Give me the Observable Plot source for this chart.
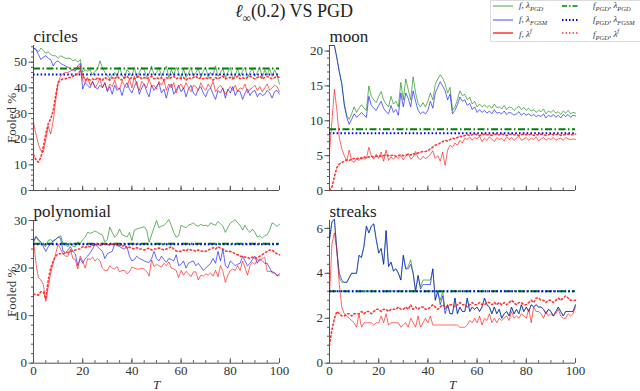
<!DOCTYPE html>
<html>
<head>
<meta charset="utf-8">
<script src="https://cdn.jsdelivr.net/npm/d3@7"></script>
<script src="https://cdn.jsdelivr.net/npm/@observablehq/plot@0.6"></script>
<style>
  html, body { margin: 0; padding: 0; background: #fff; }
  #root { position: relative; width: 640px; height: 391px; overflow: hidden; font-family: "Liberation Serif", "Times New Roman", serif; }
  .panel { position: absolute; }
  #title { position: absolute; top: 1px; left: 194px; width: 200px; text-align: center; font-size: 18px; color: #222; }
  #title sub { font-size: 12px; }
  #legend { position: absolute; left: 490px; top: 0px; width: 160px; height: 40px; border: 1px solid #ddd; background: #fff; }
  .lg { position: absolute; font-size: 9px; font-style: italic; color: #333; white-space: nowrap; }
  .lg sub, .lg sup { font-size: 6.5px; font-style: italic; }
</style>
</head>
<body>
<div id="root">
  <div id="title"><i>ℓ</i><sub>∞</sub>(0.2) VS PGD</div>
  <div id="legend"></div>
</div>
<script>
// ---------- data ----------
const T = d3.range(0, 101);
const panelNames = ["circles", "moon", "polynomial", "streaks"];

const circlesG = [55.5,55,54,55.5,54.5,53.5,54,53,52.5,52.5,
  51.5,52.5,52,51.5,51.5,51.5,50.5,51,50,51,
  46,47,46.5,47,45,46.5,47,50.5,48,46,
  45,43.5,45,46,44.5,48,45,43.5,47,46,
  44.5,48,44,46,48,47,44,45.5,48.5,45,
  46,48,44.5,46.5,48.5,44,47,45,48,46,
  43.5,47.5,44,45.5,48,44.5,46,47.5,44,46.5,
  48,44,46,45,48.5,44.5,46,47.5,44,46,
  48,43.5,45,47.5,44.5,46.5,48,44,46,47.5,
  44.5,46,48,44,47,45,47.5,44.5,47,45,41.5];
const circlesB = [55.5,55,53,51,52,52.5,51.5,51,48.5,50,
  50.5,49.5,49,48.5,48,47.5,47,46.5,48.5,49.5,
  39.5,42,41,40,42.5,40.5,39.5,41,40,42,
  38.5,40.5,37.5,41,39,40,37,40.5,42,39.5,
  38,40.5,42.5,37.5,40,41.5,38.5,36.5,41,39,
  40.5,42,38,39.5,36,40,41.5,37.5,39,41,
  38.5,40,36.5,39.5,41,38,37,39.5,40.5,38,
  36.5,39,40,37.5,35.5,39,38,40,36,39.5,
  38,40.5,37,39,38.5,35.5,38,39.5,37,38.5,
  39,36.5,38,37,37.5,39,38,36,38.5,39,37.5];
const circlesR = [26.5,22,18,15.5,15,20,25,22,27,35,
  42,44.5,45.5,46,46,46.5,47,47.5,48,48.5,
  43,42,44,41,42.5,40,41.5,43.5,40,42,
  39,41.5,40.5,43,40,39.5,42.5,41,40,43.5,
  40,44.5,41,39,42.5,41.5,40,43.5,40.5,41,
  39.5,42.5,41,43,39,41.5,40,42,38,40.5,
  41.5,39.5,42,40,38.5,41,40.5,39,42,40,
  39,41.5,40,42.5,38.5,40,41,39.5,37.5,39,
  40.5,39,41,38.5,40,39.5,41.5,38,39.5,40,
  41,39,40.5,38.5,40,41.5,39,40,41,40.5,38.5];
const circlesRd = [14,12,11,13,17,22,26,28,31,37,
  42,43,43.5,43.5,44,44,44.5,45,45.5,46.5,
  45,43,43.5,43,43.5,43,44,43.5,43,44,
  43.5,43,44,43.5,44.5,43.5,43,44,44.5,43.5,
  44,43.5,44,44.5,43.5,44,43.5,44,44.5,43.5,
  44,43.5,44,43,44,43.5,44,44.5,43.5,44,
  43.5,44,43,44,43.5,44,44.5,43.5,44,43.5,
  44,43.5,44,43,44,43.5,44,44.5,43.5,44,
  44,43.5,44,44.5,43.5,44,43.5,44,44.5,44,
  43.5,44,44.5,43.5,44,44.5,44,43.5,44,44.5,44];

const moonG = [20.8,20.8,20.8,19,17,15.3,12.4,10.8,10.2,11,
  12,11.2,11.8,12.3,11.8,11.5,15,13.5,13,12.6,
  13.5,14.2,13,12.4,12,13.5,12.4,12.8,12,15.5,
  13,16,14.5,13,16.3,14,12.5,12,12.6,12,
  12.8,14,13,15.2,16,16.6,16.1,15.3,14,14.8,
  11.5,12,13,14.3,13.6,13.8,13,13.4,12.4,12.8,
  12,12.4,12,12.3,11.9,12.2,11.8,12.4,11.9,12,
  11.7,12.2,11.6,12,11.9,11.5,11.8,12.1,11.6,11.9,
  11.5,11.8,11.4,11.6,11.2,11.5,11.3,11.7,11,11.4,
  11.2,11.5,11.1,11.3,10.9,11.4,11.1,11.5,11,11.2,11.1];
const moonB = [20.8,20.8,20.8,19,17,15.3,12.3,10.5,9.5,10.2,
  11,10.5,10.8,11.2,10.8,10.5,13.5,12.2,11.8,11.5,
  12.2,12.8,11.8,11.3,11,12.2,11.2,11.6,10.8,14,
  12,14,13.2,12,14.3,12.8,11.5,11,11.3,11,
  11.5,12.8,11.8,14,14.8,15.6,15,14.3,13,13.8,
  11,11.5,12.3,13.4,12.8,13,12.2,12.5,11.6,12,
  11.2,11.6,11.2,11.5,11.1,11.4,11,11.6,11.1,11.2,
  11,11.4,10.9,11.2,11.1,10.8,11,11.3,10.8,11.1,
  10.8,11,10.7,10.9,10.6,10.8,10.6,11,10.4,10.8,
  10.6,10.9,10.5,10.8,10.4,10.9,10.6,10.9,10.5,10.8,10.7];
const moonR = [5.5,10,14.5,11.5,7.5,6,5,4.2,5.8,4.3,
  4,4.6,4.3,4.8,4.5,4.6,6.2,5,4.5,5.2,
  4.6,5.5,4.2,5.8,4.3,4.8,4.5,4.9,4.6,5,
  4.4,4.9,5.3,4.5,4.8,5.6,4.7,4.4,4.9,4.6,
  4.8,5.2,5.7,4.6,5,4.2,5.5,3.6,5.8,6.5,
  6.2,6.8,6.5,7.2,6.8,7.5,7.3,7.7,7.2,7.6,
  7.4,7.8,7,7.5,7.2,7.7,7.4,7,7.6,7.3,
  7.5,7.1,7.7,7.3,7.6,7.2,7.5,7.8,7.2,7.4,
  7.6,7.2,7.5,7.3,7.7,7.1,7.4,7.6,7.2,7.5,
  7.3,7.6,7.2,7.4,7.5,7.2,7.6,7.4,7.3,7.4,7.3];
const moonRd = [0,0.5,2,3.3,3.8,4,4.2,4.4,4.3,4.5,
  4.6,4.5,4.7,4.6,4.8,4.7,4.8,4.9,4.8,4.9,
  5,4.9,5,5.1,5,5,5.1,4.9,5,5.1,
  5,5.1,5.2,5.1,5.3,5.2,5.4,5.5,5.6,5.6,
  5.7,6,6.2,6.5,6.6,6.8,7,7.2,7.1,7.3,
  7.5,7.4,7.6,7.8,7.7,7.9,8,7.9,8,8.1,
  8,7.9,8,8.1,8,8,7.9,8.1,8,8,
  8.1,8,7.9,8,8.1,8,8,7.9,8,8.1,
  8,8,8.1,7.9,8,8,8.1,8,7.9,8,
  8.1,8,8,8.1,7.9,8,8,8.1,8,8,8.1];

const polyG = [25.5,26.5,25.8,25.2,24.8,24.5,25.8,26,25.5,26,
  26.5,26.8,25.2,24.8,24.5,25,24.6,24.5,25.5,25.2,
  26,26.5,27.5,27.3,27.5,27.8,27.5,27.2,27,25.5,
  26,28.6,27.5,26.5,27,28.2,27,26.8,26.5,27.5,
  25.8,28,28.2,28.4,28.5,28.7,28,25.4,27,28.5,
  30,28.5,28.8,29,29.5,30.2,29,27.5,26.5,26.8,
  29,28.7,28.5,29,29.2,29.5,29,28.8,29.2,28.9,
  29,28.8,29.5,29.2,29,29.8,29.3,28.8,27.5,28.5,
  29.5,29.8,30.2,29.5,29,28,29,28,27.5,28.2,
  27.5,26.5,26.8,26.3,26.8,27,28,29.5,29.2,28.8,29.2];
const polyB = [25.5,26.7,26,25.5,24.5,23.5,24.5,25,25.8,26,
  26.5,26.3,23.5,23.3,23.8,24.5,23.5,23,20.5,22,
  21,22,22.5,23.2,24,25,24.5,24,23.5,22,
  23,23.3,23.5,25,24.8,24.5,24.2,24,24.5,22.5,
  21.5,21.8,22.5,22,21.8,21.5,21.3,21.2,22,23.5,
  22,21.5,22.5,21.8,21.2,22,21.8,21.5,22.8,20.5,
  20.8,21.5,20,21,21.3,21.5,20.5,21,20.3,19.5,
  20,20.5,21,22,21,23.5,21.5,24,20.5,20,
  21.5,21,20.5,20.8,21,22.5,21.5,20.5,21,21.8,
  22.5,21,22,21.5,21,21,20,19,19,18.3,18.8];
const polyR = [26,21,18,17.5,16.5,13,16,19,21,23,
  25,24,23,22.5,22.5,24,22,21.8,19.8,22.5,
  21.5,20,22,21.8,22.3,21.5,22,21.5,20,19.5,
  19.5,20.5,20,19.8,20.3,19.2,19.5,19.5,18.8,19.2,
  20.2,20,19.8,19.8,20,19.8,19.3,18.3,21.7,20.3,
  20.8,20.5,20.2,21,20.5,21.3,20,19.8,19.5,18,
  19.5,18.5,19.3,18.8,18.2,19.2,19.2,17.5,18.5,18.3,
  18.8,18.5,19,18.3,19.5,18.2,20.5,19.3,17,18.5,
  19.5,19.8,19.5,20.5,19.5,21.5,20,18.5,20.5,21.2,
  20.8,21.8,21.5,22,22.3,19.3,19.3,19.3,19,18.5,18.5];
const polyRd = [14.5,14.5,14.3,15,15,13.5,17.5,20,21.5,22.5,
  23,23,23,23.2,23.3,23.5,23.6,23.8,24,24,
  24.5,24.3,24.6,24.5,24.8,24.8,25,24.8,25,25,
  25,24.8,25,25.2,24.8,24.8,24.6,24.8,24.2,24.4,
  24.2,24,24.3,24,24,23.8,24,24.2,23.8,24,
  24,24.2,24,23.8,24,24.2,24.5,24,23.6,23.5,
  23.5,23.8,23.6,24,23.8,23.8,23.5,23.8,23.6,23.5,
  23.5,23.8,24,24.3,24,24.5,24.2,24,23.6,23.5,
  23.5,23.3,23,22.8,22.5,22.5,22.3,22.2,22,22.3,
  22,22.2,22.5,22.8,23.2,23.5,23.8,23.8,23.3,23,22.8];

const streaksB = [5.5,6.3,6.4,5,4,3.7,3.6,3.6,3.8,4,
  4,4,4.8,4.7,5.2,6.1,5.8,6.1,6.2,5.5,
  4.9,5.1,4.4,5.9,4.3,4.5,4.1,4.2,4,3.7,
  4.8,4.2,4.2,4.4,4,3.2,3.9,3.3,3.5,3.5,
  3.5,3.5,4.2,2.8,3.2,2.6,3,2.2,2.6,2.2,
  2.2,2.9,2.2,2.5,2.3,2.3,2.9,2.3,2.5,2.4,
  2.5,2.3,2.5,2.9,2.6,2.5,2.2,2.5,2.2,2.4,
  2,2.2,2.3,2.1,2.5,2.2,2.4,2.2,2.6,2.3,
  2.5,2.3,2.6,2.5,2.6,2.5,2.5,2.4,2.2,2.4,
  2.3,2.1,2.3,2.5,2.3,2.1,2.3,2.3,2.3,2.3,2.6];
const streaksG = [5.5,6.3,6.4,5,3.8,3.6,3.6,3.6,3.8,4,
  4,4,4.8,4.7,5.2,6.1,5.8,6.1,6.2,5.5,
  4.9,5.1,4.4,5.9,4.3,4.5,4.1,4.2,4,3.7,
  4.8,4.2,4.3,4.6,4,3.2,3.9,3.4,3.7,3.7,
  3.7,3.7,4.2,2.8,3.2,2.8,3.2,2.4,2.6,2.2,
  2.2,2.9,2.2,2.5,2.3,2.3,2.9,2.3,2.5,2.4,
  2.5,2.3,2.5,2.9,2.6,2.5,2.2,2.5,2.2,2.4,
  2,2.2,2.3,2.1,2.5,2.2,2.4,2.2,2.6,2.3,
  2.5,2.3,2.6,2.5,2.6,2.5,2.5,2.4,2.2,2.4,
  2.3,2.1,2.3,2.5,2.3,2.1,2.3,2.3,2.3,2.3,2.6];
const streaksR = [3,5.3,5.8,5,3.5,2.5,2.2,2.1,2,1.9,
  1.8,1.6,2.2,1.6,1.8,1.8,1.8,1.8,1.7,1.8,
  1.8,2.1,1.8,2.2,1.7,1.8,1.8,1.8,1.8,1.6,
  1.7,1.8,1.6,2,1.8,1.6,2.1,1.6,1.8,2,
  1.8,2.1,1.7,1.7,1.7,1.7,1.7,1.7,1.7,1.7,
  1.7,1.7,1.7,1.6,1.6,1.6,1.7,1.9,1.8,2,
  1.8,2.1,1.7,2,1.9,2.2,1.8,2,1.8,2,
  1.9,2,2.1,1.9,2.3,2,2.1,2,2.2,2.1,
  2,2.4,1.8,2.5,2.3,2.3,2.2,2,2.3,2.1,
  2.2,2.1,2.2,2.4,2.1,2,2,2.2,2.1,2.2,2.5];
const streaksRd = [0.8,1.5,2,2.3,2.2,2.1,2.1,2.2,2.2,2.1,
  2.2,2.2,2.2,2.3,2.2,2.3,2.3,2.2,2.3,2.4,
  2.4,2.3,2.4,2.4,2.3,2.4,2.4,2.4,2.5,2.4,
  2.4,2.5,2.4,2.6,2.4,2.5,2.4,2.5,2.5,2.4,
  2.4,2.5,2.6,2.5,2.4,2.5,2.6,2.5,2.5,2.6,
  2.6,2.5,2.6,2.7,2.6,2.6,2.5,2.6,2.7,2.6,
  2.6,2.7,2.6,2.6,2.7,2.7,2.6,2.7,2.6,2.7,
  2.6,2.7,2.6,2.7,2.8,2.7,2.6,2.7,2.7,2.6,
  2.6,2.7,2.8,2.7,2.9,2.9,2.8,2.8,2.7,2.8,
  2.8,2.7,2.8,2.9,2.8,2.9,3,2.9,2.8,2.8,2.8];

// constant (f_PGD) levels per panel
const constGreen = [47.5, 8.8, 25.1, 3.2];
const constBlue  = [45.2, 8.2, 25.0, 3.2];

// axis settings per panel
const yMax = [56.5, 20.8, 30, 6.35];
const yMajor = [[0,10,20,30,40,50],[0,5,10,15,20],[0,10,20,30],[0,2,4,6]];
const yMinorStep = [2, 1, 2, 0.4];
const xMajor = [0,20,40,60,80,100];
const xMinor = [0,5,10,15,20,25,30,35,40,45,50,55,60,65,70,75,80,85,90,95,100];

const series = [
  {G: circlesG, B: circlesB, R: circlesR, Rd: circlesRd},
  {G: moonG, B: moonB, R: moonR, Rd: moonRd},
  {G: polyG, B: polyB, R: polyR, Rd: polyRd},
  {G: streaksG, B: streaksB, R: streaksR, Rd: streaksRd}
];

const legendItems = [
  {html: '<i>f</i>, <i>λ</i><sub>PGD</sub>', color: "#008000", op: 0.6, dash: null, w: 1.2, col: 0, row: 0},
  {html: '<i>f</i>, <i>λ</i><sub>FGSM</sub>', color: "#0000ff", op: 0.6, dash: null, w: 1.2, col: 0, row: 1},
  {html: '<i>f</i>, <i>λ</i><sup>f</sup>', color: "#ff0000", op: 0.6, dash: null, w: 2, col: 0, row: 2},
  {html: '<i>f</i><sub>PGD</sub>, <i>λ</i><sub>PGD</sub>', color: "#008000", op: 1, dash: "5,2,1.5,2", w: 1.5, col: 1, row: 0},
  {html: '<i>f</i><sub>PGD</sub>, <i>λ</i><sub>FGSM</sub>', color: "#0000ff", op: 1, dash: "1.5,2", w: 1.8, col: 1, row: 1},
  {html: '<i>f</i><sub>PGD</sub>, <i>λ</i><sup>f</sup>', color: "#ff2020", op: 0.9, dash: "1.5,2", w: 1.5, col: 1, row: 2}
];

// ---------- layout ----------
const layout = [
  {left: 0, top: 28, height: 170, mt: 17, mb: 8, xLabels: false, yLabel: true},
  {left: 296, top: 28, height: 170, mt: 17, mb: 8, xLabels: false, yLabel: false},
  {left: 0, top: 205, height: 186, mt: 15, mb: 28.3, xLabels: true, yLabel: true},
  {left: 296, top: 205, height: 186, mt: 15, mb: 28.3, xLabels: true, yLabel: false}
];

const FONT = '"Liberation Serif", "Times New Roman", serif';
const root = document.getElementById("root");
const axisColor = "#555";

panelNames.forEach((name, i) => {
  const s = series[i], L = layout[i];
  const rows = (arr) => T.map((t, k) => ({t, v: arr[k]}));
  const minor = d3.range(0, yMax[i] + 1e-9, yMinorStep[i]).map(v => +v.toFixed(3));
  const marks = [
    Plot.axisY(minor, {tickSize: 2, text: null, stroke: axisColor, label: null}),
    Plot.axisY(yMajor[i], {tickSize: 4.5, tickPadding: 2, stroke: axisColor, fill: "#333", fontSize: 13,
      label: L.yLabel ? "Fooled %" : null, labelAnchor: "center", labelArrow: "none", labelOffset: 27}),
    Plot.axisX(xMinor, {tickSize: -2.5, text: null, stroke: axisColor, label: null}),
    Plot.axisX(xMajor, {tickSize: -4.5, tickPadding: 7, stroke: axisColor, fill: "#333", fontSize: 13,
      text: L.xLabels ? undefined : null,
      label: L.xLabels ? "T" : null, labelAnchor: "center", labelArrow: "none", labelOffset: 26}),
    Plot.ruleY([0], {stroke: axisColor, strokeWidth: 1}),
    Plot.ruleX([0], {stroke: axisColor, strokeWidth: 1}),
    Plot.lineY(rows(s.G), {x: "t", y: "v", stroke: "#008000", strokeOpacity: 0.6, strokeWidth: 1}),
    Plot.lineY(rows(s.B), {x: "t", y: "v", stroke: "#0000ff", strokeOpacity: 0.6, strokeWidth: 1}),
    Plot.lineY(rows(s.R), {x: "t", y: "v", stroke: "#ff0000", strokeOpacity: 0.6, strokeWidth: 1}),
    Plot.ruleY([constGreen[i]], {x1: 0, x2: 100, stroke: "#008000", strokeWidth: 2, strokeDasharray: "7,2.5,1.5,2.5"}),
    Plot.ruleY([constBlue[i]], {x1: 0, x2: 100, stroke: "#0000ff", strokeWidth: 2, strokeDasharray: "1.6,2.2"}),
    Plot.lineY(rows(s.Rd), {x: "t", y: "v", stroke: "#ff2020", strokeOpacity: 0.9, strokeWidth: 1.6, strokeDasharray: "1.5,2.5"}),
    Plot.text([name], {frameAnchor: "top-left", textAnchor: "start", lineAnchor: "bottom", dy: -4, fontSize: 17, fill: "#222"})
  ];
  const chart = Plot.plot({
    width: 290,
    height: L.height,
    marginLeft: 33,
    marginRight: 11,
    marginTop: L.mt,
    marginBottom: L.mb,
    style: {fontFamily: FONT, fontSize: "13px", background: "transparent", overflow: "visible"},
    x: {domain: [0, 100]},
    y: {domain: [0, yMax[i]]},
    marks
  });
  chart.setAttribute("font-family", FONT);
  const div = document.createElement("div");
  div.className = "panel";
  div.style.left = L.left + "px";
  div.style.top = L.top + "px";
  div.appendChild(chart);
  root.appendChild(div);
});

// italic T labels
root.querySelectorAll("svg [aria-label='x-axis label'] text").forEach(t => t.setAttribute("font-style", "italic"));

// legend
const legend = document.getElementById("legend");
legendItems.forEach(it => {
  const lx = it.col === 0 ? 2 : 71;
  const tx = it.col === 0 ? 28 : 102;
  const y = 5 + it.row * 13.5;
  const svg = d3.create("svg").attr("width", 22).attr("height", 6)
    .style("position", "absolute").style("left", lx + "px").style("top", (y - 3) + "px");
  svg.append("line").attr("x1", 0).attr("x2", it.col === 0 ? 20 : 16).attr("y1", 3).attr("y2", 3)
    .attr("stroke", it.color).attr("stroke-opacity", it.op).attr("stroke-width", it.w)
    .attr("stroke-dasharray", it.dash);
  legend.appendChild(svg.node());
  const lab = document.createElement("div");
  lab.className = "lg";
  lab.style.left = tx + "px";
  lab.style.top = (y - 6) + "px";
  lab.innerHTML = it.html;
  legend.appendChild(lab);
});
</script>
</body>
</html>
